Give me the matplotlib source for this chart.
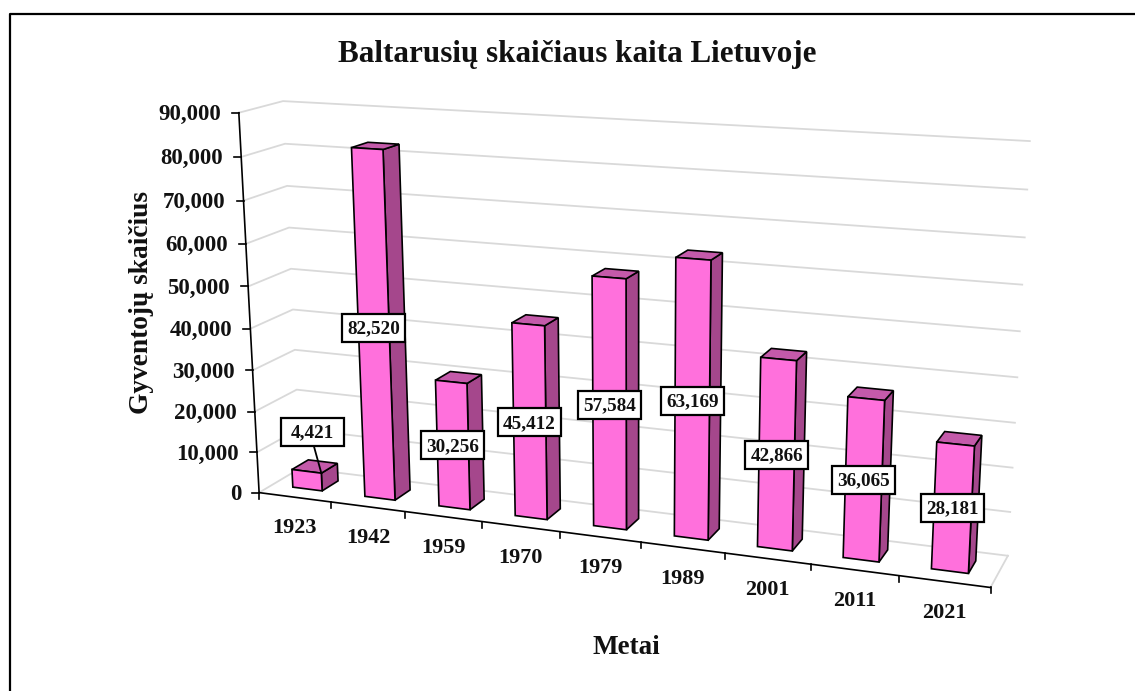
import numpy as np
import matplotlib
matplotlib.use("Agg")
import matplotlib.pyplot as plt
from matplotlib.patches import Polygon, Rectangle

years = ["1923", "1942", "1959", "1970", "1979", "1989", "2001", "2011", "2021"]
population = [4421, 82520, 30256, 45412, 57584, 63169, 42866, 36065, 28181]
y_ticks = [0, 10000, 20000, 30000, 40000, 50000, 60000, 70000, 80000, 90000]

title = "Baltarusių skaičiaus kaita Lietuvoje"
x_title = "Metai"
y_title = "Gyventojų skaičius"

FRONT = "#FF70DC"
SIDE = "#A5478C"
TOP = "#C45AAA"
GRID = "#D9D9D9"

plt.rcParams["font.family"] = ["Liberation Serif", "DejaVu Serif"]
plt.rcParams["font.weight"] = "bold"

# camera calibration: (category, value, depth) -> pixel in the reference
calib_world = [
    (0, 0, 0), (1, 0, 0), (2, 0, 0), (3, 0, 0), (4, 0, 0), (6, 0, 0), (7, 0, 0), (8, 0, 0), (9, 0, 0),
    (0, 90000, 0), (0, 50000, 0),
    (0, 90000, 1), (0, 50000, 1), (0, 20000, 1), (0, 0, 1),
    (9, 90000, 1), (9, 60000, 1), (9, 0, 1),
]
calib_pixel = [
    (259, 491), (332, 502), (405, 512), (482, 522), (560, 533), (725, 553), (810, 565), (899, 575), (991, 587),
    (238.5, 113), (248.5, 286),
    (283, 101), (291, 269), (297, 389), (300, 469),
    (1030, 141), (1022, 285), (1008, 555),
]


def fit_camera(world, pixel):
    rows = []
    rhs = []
    for (x, y, z), (u, v) in zip(world, pixel):
        y = y / 90000
        rows.append([x, y, z, 1, 0, 0, 0, 0, -u * x, -u * y, -u * z])
        rhs.append(u)
        rows.append([0, 0, 0, 0, x, y, z, 1, -v * x, -v * y, -v * z])
        rhs.append(v)
    sol = np.linalg.lstsq(np.array(rows, float), np.array(rhs, float), rcond=None)[0]
    return np.append(sol, 1).reshape(3, 4)


CAM = fit_camera(calib_world, calib_pixel)


def proj(x, y, z):
    p = CAM @ np.array([x, y / 90000, z, 1.0])
    return p[0] / p[2], p[1] / p[2]


fig = plt.figure(figsize=(11.35, 6.91), dpi=100)
ax = fig.add_axes([0, 0, 1, 1])
ax.set_xlim(0, 1135)
ax.set_ylim(691, 0)
ax.axis("off")

# outer chart frame
ax.plot([10, 10, 1135], [691, 14, 14], color="black", lw=1.6, zorder=1)

# walls and floor
n = len(years)
for v in y_ticks:
    a, b, c = proj(0, v, 0), proj(0, v, 1), proj(n, v, 1)
    ax.plot([a[0], b[0], c[0]], [a[1], b[1], c[1]], color=GRID, lw=1.3, zorder=2)
a, b = proj(n, 0, 0), proj(n, 0, 1)
ax.plot([a[0], b[0]], [a[1], b[1]], color=GRID, lw=1.3, zorder=2)

# axes
a, b = proj(0, 90000, 0), proj(0, 0, 0)
ax.plot([a[0], b[0]], [a[1], b[1]], color="black", lw=1.2, zorder=3)
a = proj(n, 0, 0)
ax.plot([b[0], a[0]], [b[1], a[1]], color="black", lw=1.2, zorder=3)

for v in y_ticks:
    px, py = proj(0, v, 0)
    ax.plot([px - 7, px], [py, py], color="black", lw=1.2, zorder=3)
    ax.text(px - 18, py + 2, f"{v:,}", ha="right", va="center", fontsize=16.5, color="#111111")

for i in range(n + 1):
    px, py = proj(i, 0, 0)
    ax.plot([px, px], [py, py + 6], color="black", lw=1.2, zorder=3)

for i, year in enumerate(years):
    px, py = proj(i + 0.5, 0, 0)
    ax.text(px, py + 31, year, ha="center", va="center", fontsize=16, color="#111111")

# bars
x0, x1 = 0.285, 0.695
z0, z1 = 0.32, 0.72
for i, v in enumerate(population):
    l, r = i + x0, i + x1
    front = [proj(l, 0, z0), proj(r, 0, z0), proj(r, v, z0), proj(l, v, z0)]
    side = [proj(r, 0, z0), proj(r, 0, z1), proj(r, v, z1), proj(r, v, z0)]
    top = [proj(l, v, z0), proj(r, v, z0), proj(r, v, z1), proj(l, v, z1)]
    for pts, col in [(side, SIDE), (top, TOP), (front, FRONT)]:
        ax.add_patch(Polygon(pts, closed=True, facecolor=col, edgecolor="black", lw=1.2, zorder=4 + i * 0.01))

# value labels sit in the middle of the front face
box_w, box_h = 63, 28
for i, v in enumerate(population):
    px, py = proj(i + (x0 + x1) / 2, v / 2, z0)
    if i == 0:
        tip = proj(i + x1, v, z0)
        px, py = px + 5, py - 48
        ax.plot([px - 2, tip[0]], [py, tip[1]], color="black", lw=1.3, zorder=5)
    ax.add_patch(Rectangle((px - box_w / 2, py - box_h / 2), box_w, box_h, facecolor="white",
                           edgecolor="black", lw=1.6, zorder=6))
    ax.text(px, py + 1, f"{v:,}", ha="center", va="center", fontsize=13.8, color="#111111", zorder=7)

ax.text(577, 54, title, ha="center", va="center", fontsize=22.4, color="#111111")
ax.text(626, 648, x_title, ha="center", va="center", fontsize=19.5, color="#111111")
ax.text(141, 302, y_title, ha="center", va="center", rotation=90, fontsize=19.7, color="#111111")

fig.savefig("out.png", dpi=100)
